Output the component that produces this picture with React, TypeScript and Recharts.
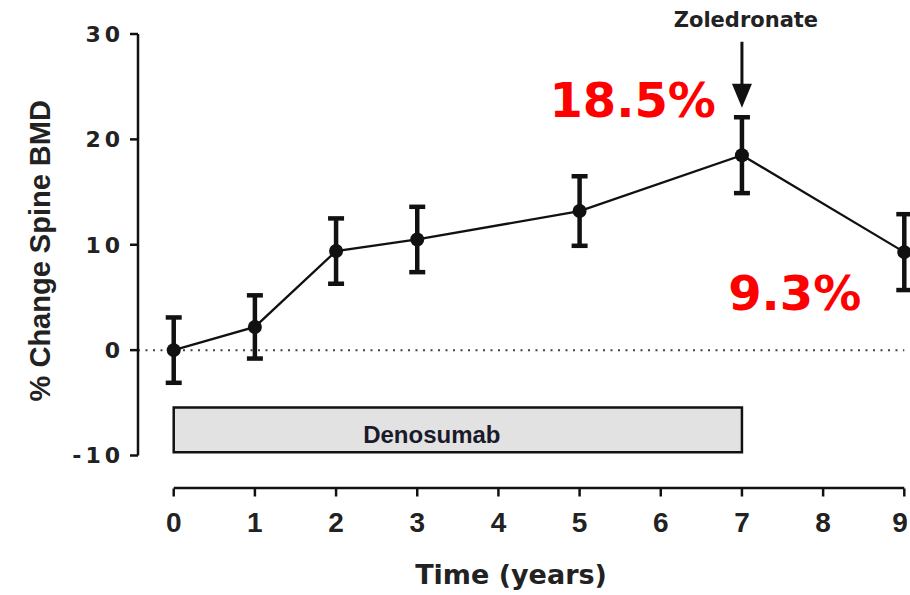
import React from "react";
import {
  ComposedChart,
  Line,
  ErrorBar,
  XAxis,
  YAxis,
  ReferenceLine,
  ReferenceArea,
  ReferenceDot,
} from "recharts";

// Spine BMD change over time, mean ± error
const years = [0, 1, 2, 3, 5, 7, 9];
const bmdChange = [0, 2.2, 9.4, 10.5, 13.2, 18.5, 9.3];
const bmdError = [3.1, 3.0, 3.1, 3.1, 3.3, 3.6, 3.6];

const xTicks = [0, 1, 2, 3, 4, 5, 6, 7, 8, 9];
const yTicks = [-10, 0, 10, 20, 30];

// time points whose value is called out in red
const calloutYears = [7, 9];

// treatment markers
const denosumabStart = 0;
const denosumabEnd = 7;
const zoledronateYear = 7;

const data = years.map((year, i) => ({
  year,
  change: bmdChange[i],
  err: bmdError[i],
}));

const X_MIN = -0.44;
const X_MAX = 9.6;
const X_LAST = 9;

const INK = "#111";
const WIDE = "'DejaVu Sans', Verdana, sans-serif";
const ARIAL = "'Liberation Sans', Arial, sans-serif";

const YTick = (props: any) => {
  const { x, y, payload } = props;
  return (
    <text
      x={x + 4}
      y={y}
      dy="0.36em"
      textAnchor="end"
      fontFamily={WIDE}
      fontWeight="bold"
      fontSize={22}
      letterSpacing={4}
      fill="#222"
    >
      {payload.value}
    </text>
  );
};

const XTick = (props: any) => {
  const { x, y, payload } = props;
  // keep the last label inside the 910px frame
  const tx = Math.min(x, 900);
  return (
    <g>
      <line x1={x} x2={x} y1={y + 33} y2={y + 41} stroke={INK} strokeWidth={2.5} />
      <text
        x={tx}
        y={y + 76}
        textAnchor="middle"
        fontFamily={ARIAL}
        fontWeight="bold"
        fontSize={28}
        fill="#222"
      >
        {payload.value}
      </text>
    </g>
  );
};

const YLabel = (props: any) => {
  const { viewBox } = props;
  const cx = viewBox.x + 40;
  const cy = viewBox.y + viewBox.height / 2 + 6;
  return (
    <text
      transform={`translate(${cx}, ${cy}) rotate(-90)`}
      dy="0.36em"
      textAnchor="middle"
      fontFamily={ARIAL}
      fontWeight="bold"
      fontSize={29}
      fill="#222"
    >
      % Change Spine BMD
    </text>
  );
};

const XLabel = (props: any) => {
  const { viewBox } = props;
  return (
    <text
      x={viewBox.x + 373}
      y={viewBox.y + 128}
      textAnchor="middle"
      fontFamily={WIDE}
      fontWeight="bold"
      fontSize={27}
      fill="#222"
    >
      Time (years)
    </text>
  );
};

// red percentage callouts next to selected points
const calloutOffset: Record<number, { dx: number; dy: number }> = {
  7: { dx: -26, dy: -38 },
  9: { dx: -43, dy: 58 },
};

const Callout = (props: any) => {
  const { x, y, value, index } = props;
  const year = years[index];
  if (!calloutYears.includes(year)) return null;
  const off = calloutOffset[year];
  return (
    <text
      x={x + off.dx}
      y={y + off.dy}
      textAnchor="end"
      fontFamily={WIDE}
      fontWeight="bold"
      fontSize={48}
      fill="#ff0000"
    >
      {value}%
    </text>
  );
};

const ZoledronateArrow = (props: any) => {
  const { cx, cy } = props;
  return (
    <g>
      <line x1={cx} x2={cx} y1={cy - 66} y2={cy - 20} stroke={INK} strokeWidth={3} />
      <polygon
        points={`${cx - 10},${cy - 24} ${cx + 10},${cy - 24} ${cx},${cy}`}
        fill={INK}
      />
      <text
        x={cx + 4}
        y={cy - 81}
        textAnchor="middle"
        fontFamily={WIDE}
        fontWeight="bold"
        fontSize={21}
        fill="#222"
      >
        Zoledronate
      </text>
    </g>
  );
};

const DenosumabText = (props: any) => {
  const { cx, cy } = props;
  return (
    <text
      x={cx}
      y={cy}
      dy="0.36em"
      textAnchor="middle"
      fontFamily={ARIAL}
      fontWeight="bold"
      fontSize={24}
      fill="#1a1a2a"
    >
      Denosumab
    </text>
  );
};

export default function App() {
  return (
    <div
      style={{
        position: "fixed",
        left: 0,
        top: 0,
        width: 910,
        height: 595,
        overflow: "hidden",
        background: "#fff",
      }}
    >
      <ComposedChart
        width={960}
        height={595}
        data={data}
        margin={{ top: 34, right: 7, bottom: 0, left: 0 }}
      >
        <XAxis
          dataKey="year"
          type="number"
          domain={[X_MIN, X_MAX]}
          allowDataOverflow
          ticks={xTicks}
          axisLine={false}
          tickLine={false}
          tickSize={0}
          tickMargin={0}
          height={139.5}
          tick={<XTick />}
          label={<XLabel />}
        />
        <YAxis
          type="number"
          domain={[-10, 30]}
          ticks={yTicks}
          width={138}
          axisLine={{ stroke: INK, strokeWidth: 2.5 }}
          tickLine={{ stroke: INK, strokeWidth: 2.5 }}
          tickSize={8}
          tickMargin={10}
          tick={<YTick />}
          label={<YLabel />}
        />
        {/* detached x axis line below the plot */}
        <ReferenceLine
          segment={[
            { x: 0, y: -13.08 },
            { x: X_LAST, y: -13.08 },
          ]}
          stroke={INK}
          strokeWidth={2.5}
          ifOverflow="visible"
        />
        <ReferenceLine
          segment={[
            { x: X_MIN, y: 0 },
            { x: X_LAST, y: 0 },
          ]}
          stroke="#444"
          strokeWidth={2}
          strokeDasharray="2 5.5"
        />
        <ReferenceArea
          x1={denosumabStart}
          x2={denosumabEnd}
          y1={-9.7}
          y2={-5.45}
          fill="#e2e2e2"
          fillOpacity={1}
          stroke={INK}
          strokeWidth={2.5}
        />
        <ReferenceDot x={3.18} y={-7.95} r={0} shape={<DenosumabText />} />
        <ReferenceDot x={zoledronateYear} y={23} r={0} shape={<ZoledronateArrow />} />
        <Line
          dataKey="change"
          stroke={INK}
          strokeWidth={2.3}
          dot={{ r: 7, fill: INK, stroke: "none" }}
          label={<Callout />}
          isAnimationActive={false}
        >
          <ErrorBar
            dataKey="err"
            direction="y"
            width={8}
            stroke={INK}
            strokeWidth={4.5}
            isAnimationActive={false}
          />
        </Line>
      </ComposedChart>
    </div>
  );
}
